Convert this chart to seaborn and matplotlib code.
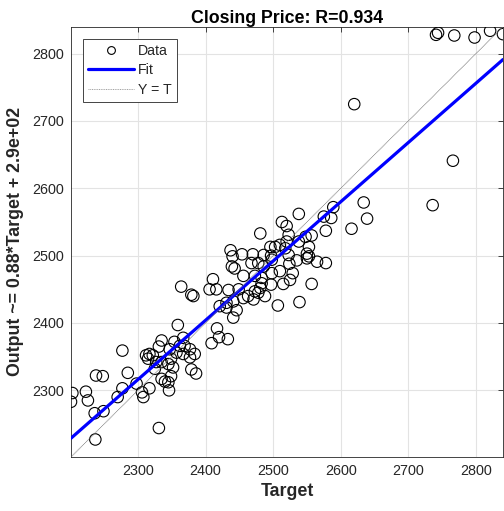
import numpy as np
import pandas as pd
import matplotlib
matplotlib.use("Agg")
import matplotlib.pyplot as plt
import seaborn as sns
from matplotlib.lines import Line2D

# ---- data ----
target = [
    2744, 2741, 2768, 2798, 2821, 2840, 2620,
    2766, 2634, 2639, 2736, 2616,
    2589, 2538, 2575, 2586, 2513, 2520, 2578, 2481, 2523, 2557, 2548, 2520,
    2538, 2553, 2496, 2503, 2510, 2518, 2486, 2497, 2523, 2550, 2553, 2550,
    2565, 2578, 2535, 2524, 2498, 2478, 2486, 2510, 2498, 2529, 2525, 2515,
    2557, 2483, 2483, 2497, 2481, 2488, 2478, 2539, 2507,
    2437, 2440, 2454, 2470, 2468, 2439, 2443, 2456, 2473, 2411, 2364,
    2379, 2382, 2406, 2416, 2434, 2449, 2473, 2463, 2421, 2431, 2441, 2431,
    2446, 2441, 2456, 2471, 2359, 2417, 2420, 2433, 2409, 2367, 2354, 2362,
    2369, 2377, 2384, 2347, 2357, 2367, 2377, 2349, 2345, 2352, 2379, 2386,
    2349, 2345, 2346,
    2335, 2331, 2277, 2317, 2312, 2322, 2315, 2327, 2335, 2325, 2285, 2238,
    2248, 2335, 2340, 2298, 2277, 2317, 2306, 2203, 2223, 2308, 2201, 2226,
    2270, 2236, 2249, 2331, 2237,
]
output = [
    2831, 2828, 2827, 2824, 2834, 2829, 2725,
    2641, 2579, 2555, 2575, 2540,
    2572, 2562, 2558, 2556, 2550, 2544, 2537, 2533, 2531, 2530, 2528, 2521,
    2521, 2513, 2513, 2513, 2516, 2511, 2501, 2500, 2501, 2503, 2499, 2496,
    2491, 2489, 2493, 2488, 2494, 2489, 2484, 2477, 2474, 2474, 2464, 2458,
    2458, 2467, 2459, 2457, 2452, 2440, 2445, 2431, 2426,
    2508, 2499, 2502, 2502, 2489, 2484, 2481, 2470, 2470, 2465, 2454,
    2442, 2440, 2450, 2450, 2449, 2450, 2447, 2440, 2425, 2430, 2432, 2423,
    2419, 2408, 2437, 2435, 2397, 2392, 2379, 2376, 2370, 2378, 2372, 2366,
    2366, 2361, 2354, 2361, 2356, 2354, 2349, 2347, 2339, 2334, 2331, 2325,
    2321, 2312, 2300,
    2374, 2365, 2359, 2354, 2352, 2352, 2347, 2342, 2342, 2332, 2326, 2322,
    2321, 2317, 2313, 2310, 2303, 2303, 2297, 2296, 2298, 2290, 2283, 2285,
    2290, 2266, 2269, 2244, 2227,
]
fit_slope = 0.88
fit_intercept = 292.0
r_value = 0.934
tick_values = [2300, 2400, 2500, 2600, 2700, 2800]
title_text = "Closing Price: R=0.934"
xlabel_text = "Target"
ylabel_text = "Output ~= 0.88*Target + 2.9e+02"

df = pd.DataFrame({"Target": target, "Output": output})
lo = min(df.Target.min(), df.Output.min())
hi = max(df.Target.max(), df.Output.max())
line_x = np.array([lo, hi])
lines_df = pd.DataFrame({
    "x": line_x,
    "fit": fit_slope * line_x + fit_intercept,
    "yt": line_x,
})

sns.set_theme(style="white")
plt.rcParams["font.family"] = ["Liberation Sans", "DejaVu Sans"]

fig = plt.figure(figsize=(5.04, 5.11), dpi=100)
ax = fig.add_axes([0.1409, 0.1057, 0.857, 0.842])

sns.scatterplot(data=df, x="Target", y="Output", ax=ax, marker="o",
                facecolor="none", edgecolor="black", linewidth=0.8, s=68,
                zorder=3, legend=False)
sns.lineplot(data=lines_df, x="x", y="fit", ax=ax, color=(0, 0, 1),
             linewidth=2.3, zorder=4, legend=False)
sns.lineplot(data=lines_df, x="x", y="yt", ax=ax, color="#707070",
             linewidth=0.6, linestyle=(0, (1, 0.6)), zorder=4, legend=False)

ax.set_xlim(lo, hi)
ax.set_ylim(lo, hi)
ax.set_xticks(tick_values)
ax.set_yticks(tick_values)
ax.grid(True, color="#e3e3e3", linewidth=0.8)
ax.set_axisbelow(True)
for sp in ax.spines.values():
    sp.set_color("#262626")
    sp.set_linewidth(0.6)
ax.tick_params(direction="in", length=3.5, width=0.6, colors="#262626",
               labelsize=10.4, top=True, right=True, pad=5)
ax.tick_params(axis="both", labelcolor="#262626")

ax.set_title(title_text, fontsize=12.8, fontweight="bold", color="#000000", pad=3)
ax.set_xlabel(xlabel_text, fontsize=12.8, fontweight="bold", color="#262626", labelpad=4)
ax.set_ylabel(ylabel_text, fontsize=12.8, fontweight="bold", color="#262626", labelpad=6)

handles = [
    Line2D([], [], marker="o", linestyle="none", markerfacecolor="none",
           markeredgecolor="black", markersize=5.6, markeredgewidth=0.8),
    Line2D([], [], color=(0, 0, 1), linewidth=2.3),
    Line2D([], [], color="#a0a0a0", linewidth=0.7, linestyle=(0, (1, 0.8))),
]
leg = ax.legend(handles, ["Data", "Fit", "Y = T"], loc="upper left",
                bbox_to_anchor=(0.0285, 0.9714), fontsize=10.2, frameon=True,
                fancybox=False, edgecolor="#262626", framealpha=1,
                handlelength=3.2, handletextpad=0.3, borderpad=0.35,
                labelspacing=0.38, borderaxespad=0)
leg.get_frame().set_linewidth(0.6)

fig.savefig("out.png", dpi=100)
